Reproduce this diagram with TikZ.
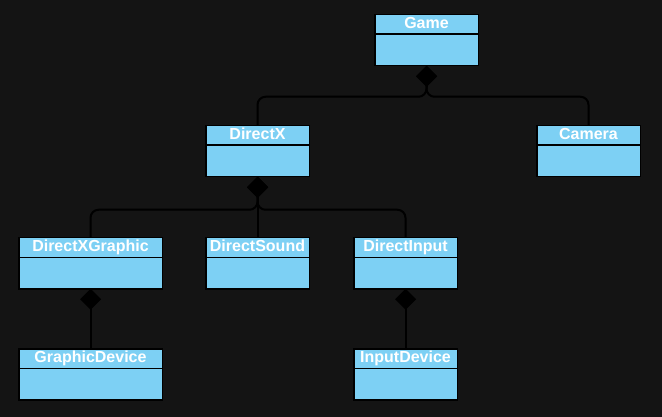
\documentclass[tikz,border=0pt]{standalone}
\usepackage{fontspec}
\setmainfont{Liberation Sans}
\usetikzlibrary{positioning,arrows.meta}
\definecolor{bgdark}{HTML}{141414}
\definecolor{classblue}{HTML}{7DD0F4}
\begin{document}
\begin{tikzpicture}[x=1pt,y=-1pt,
		class head/.style={draw=black,fill=classblue,line width=1.5pt,outer sep=0pt,inner sep=0pt,minimum width=#1,minimum height=19.5pt,text=white,text height=11.5pt,text depth=3pt,font=\fontsize{16}{19}\selectfont\bfseries},
		class body/.style={draw=black,fill=classblue,line width=1.5pt,outer sep=0pt,inner sep=0pt,minimum width=#1,minimum height=31.5pt},
		comp/.style={{Diamond[length=21pt,width=21pt]}-,draw=black,line width=2pt,rounded corners=8pt}]
		\fill[bgdark] (0,0) rectangle (662,417);
		\useasboundingbox (0,0) rectangle (662,417);
		% 顶层
		\node[class head=103.5pt] (game) at (426.5,24.5) {Game};
		\node[class body=103.5pt, below=0pt of game] (game-body) {};
		% 第二层
		\node[class head=103.5pt] (directx) at (257.5,135.5) {DirectX};
		\node[class body=103.5pt, below=0pt of directx] (directx-body) {};
		\node[class head=103.5pt] (camera) at (588.5,135.5) {Camera};
		\node[class body=103.5pt, below=0pt of camera] (camera-body) {};
		% 第三层
		\node[class head=143.5pt] (dxgraphic) at (90.5,247.5) {DirectXGraphic};
		\node[class body=143.5pt, below=0pt of dxgraphic] (dxgraphic-body) {};
		\node[class head=103.5pt] (dxsound) at (257.5,247.5) {DirectSound};
		\node[class body=103.5pt, below=0pt of dxsound] (dxsound-body) {};
		\node[class head=103.5pt] (dxinput) at (405.5,247.5) {DirectInput};
		\node[class body=103.5pt, below=0pt of dxinput] (dxinput-body) {};
		% 第四层
		\node[class head=143.5pt] (gdevice) at (90.5,358.5) {GraphicDevice};
		\node[class body=143.5pt, below=0pt of gdevice] (gdevice-body) {};
		\node[class head=103.5pt] (idevice) at (405.5,358.5) {InputDevice};
		\node[class body=103.5pt, below=0pt of idevice] (idevice-body) {};
		% 组合关系
		\draw[comp] (game-body.south) -- ++(0,31) -| (directx.north);
		\draw[comp] (game-body.south) -- ++(0,31) -| (camera.north);
		\draw[comp] (directx-body.south) -- ++(0,33) -| (dxgraphic.north);
		\draw[comp] (directx-body.south) -- (dxsound.north);
		\draw[comp] (directx-body.south) -- ++(0,33) -| (dxinput.north);
		\draw[comp] (dxgraphic-body.south) -- (gdevice.north);
		\draw[comp] (dxinput-body.south) -- (idevice.north);
\end{tikzpicture}
\end{document}
